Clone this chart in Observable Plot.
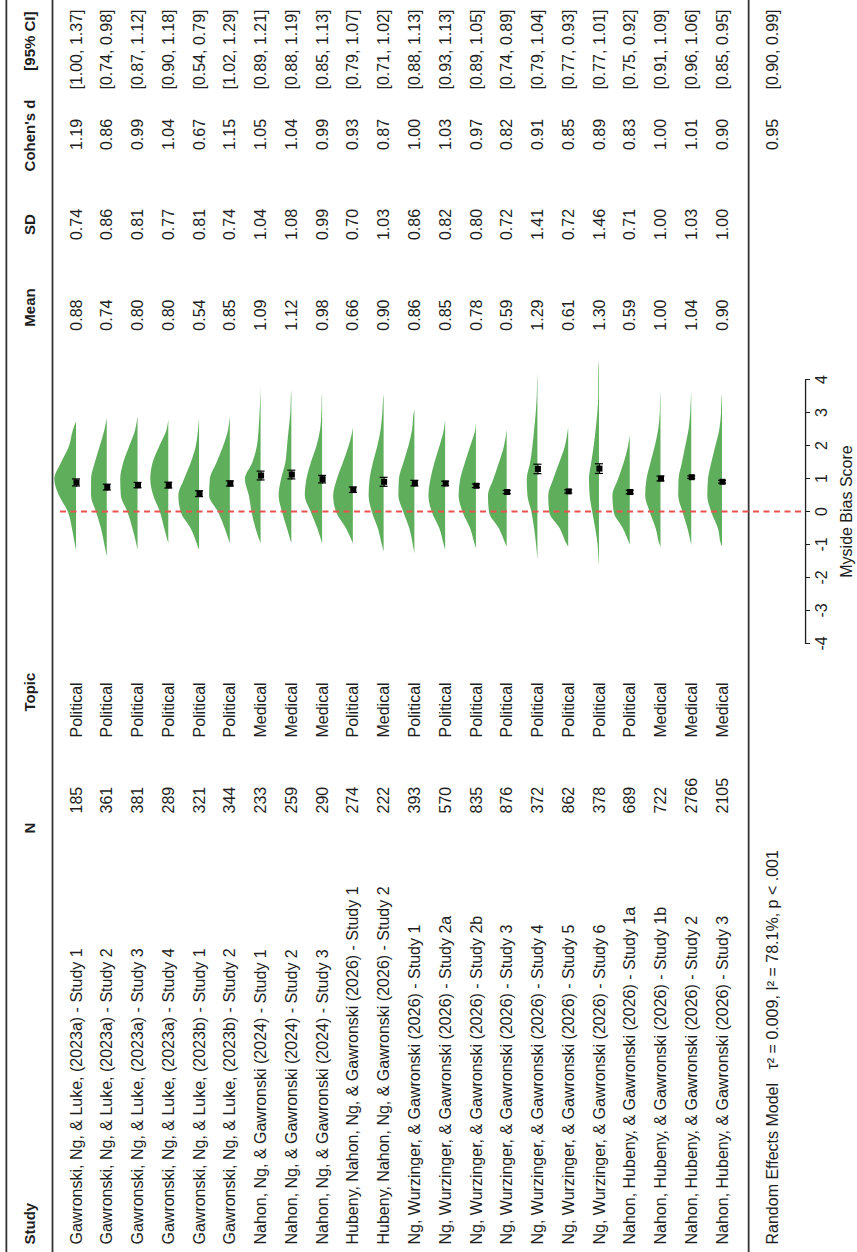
<!DOCTYPE html>
<html><head><meta charset="utf-8">
<script src="https://cdn.jsdelivr.net/npm/d3@7"></script>
<script src="https://cdn.jsdelivr.net/npm/@observablehq/plot@0.6"></script>
<style>
html,body{margin:0;padding:0;background:#fff;overflow:hidden;width:857px;height:1252px;}
#wrap{position:absolute;left:0;top:0;width:1252px;height:857px;transform-origin:0 0;transform:translate(0,1252px) rotate(-90deg);}
</style></head><body><div id="wrap"></div>
<script>
// ---------------- data ----------------
const studies = [
  "Gawronski, Ng, & Luke, (2023a) - Study 1",
  "Gawronski, Ng, & Luke, (2023a) - Study 2",
  "Gawronski, Ng, & Luke, (2023a) - Study 3",
  "Gawronski, Ng, & Luke, (2023a) - Study 4",
  "Gawronski, Ng, & Luke, (2023b) - Study 1",
  "Gawronski, Ng, & Luke, (2023b) - Study 2",
  "Nahon, Ng, & Gawronski (2024) - Study 1",
  "Nahon, Ng, & Gawronski (2024) - Study 2",
  "Nahon, Ng, & Gawronski (2024) - Study 3",
  "Hubeny, Nahon, Ng, & Gawronski (2026) - Study 1",
  "Hubeny, Nahon, Ng, & Gawronski (2026) - Study 2",
  "Ng, Wurzinger, & Gawronski (2026) - Study 1",
  "Ng, Wurzinger, & Gawronski (2026) - Study 2a",
  "Ng, Wurzinger, & Gawronski (2026) - Study 2b",
  "Ng, Wurzinger, & Gawronski (2026) - Study 3",
  "Ng, Wurzinger, & Gawronski (2026) - Study 4",
  "Ng, Wurzinger, & Gawronski (2026) - Study 5",
  "Ng, Wurzinger, & Gawronski (2026) - Study 6",
  "Nahon, Hubeny, & Gawronski (2026) - Study 1a",
  "Nahon, Hubeny, & Gawronski (2026) - Study 1b",
  "Nahon, Hubeny, & Gawronski (2026) - Study 2",
  "Nahon, Hubeny, & Gawronski (2026) - Study 3"
];
const sampleN = [185,361,381,289,321,344,233,259,290,274,222,393,570,835,876,372,862,378,689,722,2766,2105];
const topics = ["Political","Political","Political","Political","Political","Political","Medical","Medical","Medical","Political","Medical","Political","Political","Political","Political","Political","Political","Political","Political","Medical","Medical","Medical"];
const means = [0.88,0.74,0.80,0.80,0.54,0.85,1.09,1.12,0.98,0.66,0.90,0.86,0.85,0.78,0.59,1.29,0.61,1.30,0.59,1.00,1.04,0.90];
const sds = [0.74,0.86,0.81,0.77,0.81,0.74,1.04,1.08,0.99,0.70,1.03,0.86,0.82,0.80,0.72,1.41,0.72,1.46,0.71,1.00,1.03,1.00];
const cohensD = [1.19,0.86,0.99,1.04,0.67,1.15,1.05,1.04,0.99,0.93,0.87,1.00,1.03,0.97,0.82,0.91,0.85,0.89,0.83,1.00,1.01,0.90];
const dLow = [1.00,0.74,0.87,0.90,0.54,1.02,0.89,0.88,0.85,0.79,0.71,0.88,0.93,0.89,0.74,0.79,0.77,0.77,0.75,0.91,0.96,0.85];
const dHigh = [1.37,0.98,1.12,1.18,0.79,1.29,1.21,1.19,1.13,1.07,1.02,1.13,1.13,1.05,0.89,1.04,0.93,1.01,0.92,1.09,1.06,0.95];

// density outlines (relative width at each score of the grid)
const densityGrid = [-1.5,-1,-0.5,0,0.5,1,1.5,2,2.5,3,3.5,4,4.5];
const densityLo = [-1.15,-1.35,-1.15,-0.95,-1.15,-0.95,-0.95,-0.95,-0.95,-0.95,-1.2,-1.25,-1.15,-1.1,-1.05,-1.45,-1.05,-1.6,-0.99,-1.05,-1.0,-1.05];
const densityHi = [2.74,2.85,2.9,2.8,2.85,2.9,3.8,3.7,3.6,2.57,3.55,3.1,2.8,2.7,2.5,4.2,2.55,4.6,2.33,3.65,3.65,3.55];
const densityWidth = [
  [0,1,4,8,17,21.7,15,7,3,0,0,0,0],
  [0,2.3,5.7,10.7,15.7,15.7,12,7,2.3,0,0,0,0],
  [0,1,5,10,16.7,17.3,14.3,8.3,2.3,0,0,0,0],
  [0,0,4,8.3,15,18,15.7,9,1.7,0,0,0,0],
  [0,1.7,8.3,18.3,20.7,15,8.3,3.3,1,0,0,0,0],
  [0,0,5,11.7,20.7,20,13.3,6.7,1.7,0,0,0,0],
  [0,0.3,5,9,11.7,15.7,8.3,3.7,2,1,0.3,0,0],
  [0,0.3,4.3,9.3,12.7,10.3,6,4.3,2.7,1,0.5,0,0],
  [0,0,4.7,11.3,17.3,15.7,11.3,5.7,2,0.7,0.3,0,0],
  [0,0,6.7,16.7,19.7,16,10,4.3,0.3,0,0,0,0],
  [0,1.7,5.7,11.7,15,14,10.7,6.3,3,1.3,0.3,0,0],
  [0,1.5,5,11,16,15.5,11,6,2.3,0.7,0,0,0],
  [0,1.3,5.7,13.3,16.7,14.7,10.7,5.7,1.3,0,0,0,0],
  [0,1,5.7,13.3,17.3,15.7,11,5.7,0.7,0,0,0,0],
  [0,0.7,7.7,17.7,18.7,13.3,7.7,2.7,0,0,0,0,0],
  [0,1.3,3.3,6,10,10.7,7.3,5,3.3,1.7,0.7,0.3,0],
  [0,1,8.3,19,20,15,9,3.3,0.3,0,0,0,0],
  [0.3,1.3,3.7,6.7,9.3,10,7.7,5.3,3.3,1.7,0.7,0.7,0.3],
  [0,0,6.7,16,17.3,11.7,6,1.7,0,0,0,0,0],
  [0,0.7,4.7,10.7,15.3,14,10,5.7,2.3,0.7,0.3,0,0],
  [0,0.3,3.7,8.7,13,12.7,9.3,6,2.7,1,0.3,0,0],
  [0,0.7,4,10.7,14.7,14,10.7,6.7,2.7,1,0.3,0,0]
];

const headers = ["Study","N","Topic","Mean","SD","Cohen's d","[95% CI]"];
const reLabel = "Random Effects Model";
const reStats = "τ² = 0.009, I² = 78.1%, p < .001";
const reD = 0.95, reLow = 0.90, reHigh = 0.99;
const axisTicks = [-4,-3,-2,-1,0,1,2,3,4];
const axisTitle = "Myside Bias Score";

// ---------------- build ----------------
const rowStep = (722 - 76) / 21;           // px per row (used for violin widths)
const rows = studies.map((s, i) => {
  const half = 1.96 * sds[i] / Math.sqrt(sampleN[i]);
  return {i, y: i, study: s, n: String(sampleN[i]), topic: topics[i],
    mean: means[i], meanT: means[i].toFixed(2), sdT: sds[i].toFixed(2),
    dT: cohensD[i].toFixed(2), ciT: `[${dLow[i].toFixed(2)}, ${dHigh[i].toFixed(2)}]`,
    lo: means[i] - half, hi: means[i] + half};
});
const violin = [];
rows.forEach(({i}) => {
  violin.push({i, s: densityLo[i], w: 0});
  densityGrid.forEach((g, k) => {
    if (g > densityLo[i] && g < densityHi[i]) violin.push({i, s: g, w: densityWidth[i][k]});
  });
  violin.push({i, s: densityHi[i], w: 0});
});

// layout rows (in row units)
const topRule = -2.28, headerRow = -1.5, headRule = -0.78, bottomRule = 21.85, reRow = 22.63, axisRow = 23.7, titleRow = 25.03;

const ink = "#1e1e1e";
function col(data, text, dx, anchor, extra = {}) {
  return Plot.text(data, {y: "y", text, frameAnchor: "left", dx, textAnchor: anchor, fontSize: 16, fill: ink, ...extra});
}
const head = [{y: headerRow}];
const re = [{y: reRow, label: reLabel, stats: reStats, dT: reD.toFixed(2), ciT: `[${reLow.toFixed(2)}, ${reHigh.toFixed(2)}]`}];
const bold = {fontWeight: "bold", fontSize: 15};

const chart = Plot.plot({
  width: 1252, height: 857,
  marginTop: 0, marginLeft: 0, marginRight: 0, marginBottom: 52,
  x: {domain: [-4, 4], range: [608, 872]},
  y: {domain: [0, 21], range: [76, 722], axis: null},
  style: {fontFamily: "'Liberation Sans', Arial, Helvetica, sans-serif", background: "white", color: ink},
  marks: [
    // rules
    Plot.ruleY([topRule, headRule, bottomRule], {stroke: "#333", strokeWidth: 1.8}),
    // violins
    Plot.areaY(violin, {x: "s", y1: "i", y2: d => d.i - d.w / rowStep, z: "i", fill: "#5fae5c", curve: "monotone-x"}),
    // zero line
    Plot.ruleX([0], {y1: -0.52, y2: axisRow, stroke: "#e8534f", strokeWidth: 2, strokeDasharray: "6,4.5"}),
    // error bars
    Plot.ruleY(rows, {y: "i", x1: "lo", x2: "hi", stroke: "black", strokeWidth: 1.2}),
    Plot.ruleX(rows, {x: "lo", y1: d => d.i - 0.13, y2: d => d.i + 0.13, stroke: "black", strokeWidth: 1.2}),
    Plot.ruleX(rows, {x: "hi", y1: d => d.i - 0.13, y2: d => d.i + 0.13, stroke: "black", strokeWidth: 1.2}),
    Plot.dot(rows, {x: "mean", y: "i", symbol: "square", r: 3.4, fill: "black", stroke: "none"}),
    // axis
    Plot.ruleY([axisRow], {x1: -4, x2: 4, stroke: ink, strokeWidth: 1.3}),
    Plot.axisX({ticks: axisTicks, tickSize: 5, tickPadding: 5, fontSize: 16, tickFormat: d => String(d), label: null, stroke: ink}),
    Plot.text([axisTitle], {x: 0, y: titleRow, text: d => d, fontSize: 16, fill: ink}),
    // headers
    col(head, () => headers[0], 7, "start", bold),
    col(head, () => headers[1], 418, "start", bold),
    col(head, () => headers[2], 540, "start", bold),
    col(head, () => headers[3], 944, "middle", bold),
    col(head, () => headers[4], 1027, "middle", bold),
    col(head, () => headers[5], 1116, "middle", bold),
    col(head, () => headers[6], 1240, "end", bold),
    // body columns
    col(rows, "study", 7, "start"),
    col(rows, "n", 438, "start"),
    col(rows, "topic", 514, "start"),
    col(rows, "meanT", 952, "end"),
    col(rows, "sdT", 1027, "middle"),
    col(rows, "dT", 1117, "middle"),
    col(rows, "ciT", 1242, "end"),
    // random effects row
    col(re, "label", 7, "start"),
    col(re, "stats", 182, "start"),
    col(re, "dT", 1117, "middle"),
    col(re, "ciT", 1242, "end")
  ]
});
document.getElementById("wrap").appendChild(chart);
</script>
</body></html>
